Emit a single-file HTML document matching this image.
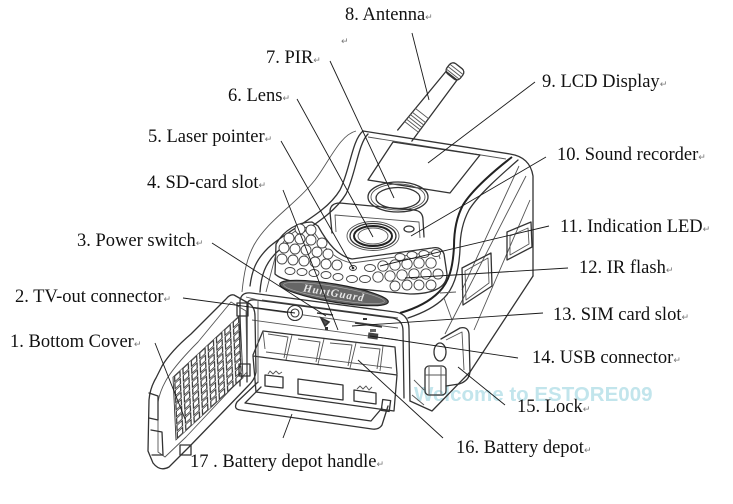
<!DOCTYPE html>
<html><head><meta charset="utf-8"><style>
html,body{margin:0;padding:0;background:#fff;}
svg{display:block;}
.lb{font-family:"Liberation Serif",serif;font-size:18.5px;fill:#111;}
.rt{font-family:"DejaVu Sans",sans-serif;font-size:9px;fill:#777;}
.k{fill:none;stroke:#333;stroke-width:1.3;stroke-linejoin:round;stroke-linecap:round;}
.t{fill:none;stroke:#555;stroke-width:0.9;stroke-linejoin:round;}
.d{fill:none;stroke:#222;stroke-width:2;}
.ld{fill:none;stroke:#1a1a1a;stroke-width:0.9;}
.led{fill:#fff;stroke:#444;stroke-width:0.9;}
</style></head><body>
<svg width="733" height="504" viewBox="0 0 733 504" xmlns="http://www.w3.org/2000/svg">
<defs>
<pattern id="grid" patternUnits="userSpaceOnUse" width="1" height="1">
<rect x="0.18" y="0.12" width="0.64" height="0.76" fill="#fff" stroke="#333" stroke-width="0.14"/>
</pattern>
</defs>
<rect width="733" height="504" fill="#fff"/>

<!-- watermark -->
<text x="414" y="401" font-family="Liberation Sans,sans-serif" font-weight="bold" font-size="20.5" fill="#c2e5ec">Welcome to ESTORE009</text>

<!-- ANTENNA -->
<g transform="translate(406,134) rotate(38)">
<path class="k" d="M-9,2 L-7,-74 L7,-74 L9,2" fill="#fff"/>
<path class="t" d="M-9,-9 L9,-9 M-9,-12 L9,-12 M-8.8,-15 L8.8,-15 M-8.8,-18 L8.8,-18 M-8.6,-21 L8.6,-21 M-8.4,-26 L8.4,-26"/>
<rect class="k" x="-8.5" y="-86" width="17" height="13" rx="4.5" fill="#fff"/>
<path class="t" d="M-8.5,-82 L8.5,-82 M-8.5,-79 L8.5,-79 M-8.5,-76 L8.5,-76"/>
</g>

<!-- TOP / SHELL -->
<path class="t" d="M356,131 C340,135 330,160 315,180 C295,205 268,220 254,245 C247,258 244,272 242,292"/>
<path class="k" d="M363,131 C352,140 350,170 340,190 C325,215 290,228 268,248 C256,260 252,270 250,286"/>
<path class="k" d="M368,134 C358,144 356,173 346,194 C331,219 297,233 276,253 C265,264 261,276 260,292"/>
<path class="k" d="M363,131 L510,154 Q530,157 533,176 L533,276"/>
<path class="t" d="M368,137 L506,159"/>
<path class="d" d="M512,157 C495,170 472,190 463,205 C456,218 454,232 454,246 C453,268 449,282 439,292 C429,302 414,309 400,313"/>
<path class="k" d="M518,160 C502,174 478,195 469,210 C462,223 460,236 460,249 C459,272 454,288 444,298 C434,308 420,314 408,318"/>
<!-- side face -->
<path class="t" d="M526,176 L445,334 M519,166 L462,290 M530,200 L474,330"/>
<path class="k" d="M533,276 L470,372"/>
<polygon class="k" points="507,232 531,222 532,247 507,260"/>
<polygon class="t" points="510,236 528,228 529,244 510,255"/>
<polygon class="k" points="462,268 491,253 492,286 463,305"/>
<polygon class="t" points="465,271 488,258 489,283 466,300"/>

<!-- LCD -->
<polygon class="k" points="393,142 480,155 450,193 368,180"/>

<!-- PIR -->
<ellipse class="k" cx="398" cy="197" rx="30" ry="15"/>
<ellipse class="t" cx="398" cy="197" rx="27" ry="13"/>
<ellipse class="k" cx="398" cy="198" rx="22" ry="10.5" fill="#fff"/>

<!-- lens hood -->
<path class="k" d="M332,233 L330,212 Q330,203 340,203 L414,210 Q423,211 423,220 L424,237" fill="#fff"/>
<path class="t" d="M336,232 L335,215 L419,222 L420,238"/>
<ellipse class="t" cx="373" cy="236" rx="26" ry="14.5"/>
<ellipse class="k" cx="373" cy="236" rx="23" ry="12.5" fill="#fff"/>
<ellipse class="d" cx="373" cy="236" rx="19" ry="10" stroke-width="2.6" stroke="#333"/>
<ellipse class="t" cx="373" cy="236" rx="15" ry="8"/>
<!-- sound hole -->
<ellipse class="k" cx="409" cy="229" rx="5" ry="3"/>

<!-- LED panel -->
<path class="k" d="M276,244 C284,230 298,222 312,222 L318,226 C328,244 338,256 352,259 L432,248 Q441,246 444,254 L447,274 C447,288 432,294 410,294 L330,286 C300,283 282,281 275,274 Z"/>
<path class="t" d="M281,246 C288,233 300,227 311,227 C322,246 334,260 352,263 L432,252 Q439,252 440,259"/>
<g class="led">
<circle cx="300" cy="229" r="5"/><circle cx="311" cy="230" r="5"/>
<circle cx="289" cy="238" r="5"/><circle cx="300" cy="239" r="5"/><circle cx="311" cy="240" r="5"/><circle cx="322" cy="243" r="5"/>
<circle cx="284" cy="248" r="5"/><circle cx="295" cy="249" r="5"/><circle cx="306" cy="250" r="5"/><circle cx="317" cy="252" r="5"/><circle cx="328" cy="254" r="5"/>
<circle cx="282" cy="259" r="5"/><circle cx="293" cy="260" r="5"/><circle cx="304" cy="261" r="5"/><circle cx="315" cy="262" r="5"/><circle cx="326" cy="264" r="5"/><circle cx="337" cy="265" r="5"/>
<ellipse cx="290" cy="271" rx="5" ry="3.5"/><ellipse cx="302" cy="272" rx="5" ry="3.5"/><ellipse cx="314" cy="273" rx="5" ry="3.5"/><ellipse cx="326" cy="275" rx="5" ry="3.5"/><ellipse cx="338" cy="277" rx="5" ry="3.5"/>
<ellipse cx="400" cy="257" rx="5" ry="3.5"/><ellipse cx="412" cy="255" rx="5" ry="3.5"/><ellipse cx="424" cy="254" rx="5" ry="3.5"/><ellipse cx="436" cy="253" rx="4.5" ry="3.5"/>
<ellipse cx="370" cy="268" rx="5.5" ry="3.5"/><circle cx="383" cy="266" r="5.2"/><circle cx="395" cy="265" r="5.2"/><circle cx="407" cy="264" r="5.2"/><circle cx="419" cy="263" r="5.2"/><circle cx="431" cy="263" r="5.2"/>
<ellipse cx="352" cy="279" rx="5.5" ry="3.5"/><ellipse cx="365" cy="279" rx="5.5" ry="3.5"/><circle cx="378" cy="277" r="5.2"/><circle cx="390" cy="276" r="5.2"/><circle cx="402" cy="275" r="5.2"/><circle cx="414" cy="274" r="5.2"/><circle cx="426" cy="274" r="5.2"/><circle cx="438" cy="274" r="5"/>
<circle cx="395" cy="286" r="5"/><circle cx="407" cy="285" r="5"/><circle cx="419" cy="285" r="5"/><circle cx="431" cy="285" r="5"/>
</g>
<!-- laser -->
<ellipse cx="353" cy="268" rx="3.5" ry="2.5" fill="#fff" stroke="#333" stroke-width="0.9"/>
<circle cx="353" cy="268" r="1.3" fill="#333"/>

<!-- logo -->
<g transform="translate(334,293) rotate(9.5)">
<ellipse cx="0" cy="0" rx="55" ry="9" fill="#666" stroke="#222" stroke-width="1.2"/>
<ellipse cx="0" cy="0" rx="51" ry="6.5" fill="none" stroke="#aaa" stroke-width="0.6"/>
<text x="0" y="3.5" text-anchor="middle" font-family="Liberation Serif,serif" font-style="italic" font-weight="bold" font-size="11" fill="#e8e8e8" letter-spacing="1">HuntGuard</text>
</g>

<!-- front lower lines -->
<path class="t" d="M262,300 L398,318 M276,254 L266,292"/>
<path class="t" d="M440,293 L456,292 M444,298 L452,320"/>

<!-- BATTERY COMPARTMENT FRAME -->
<path class="k" d="M240,386 L240,301 Q241,292 251,293 L395,312 Q409,314 409,329 L410,401"/>
<path class="k" d="M247,382 L247,304 Q248,299 256,300 L393,318 Q403,320 403,331 L404,398"/>
<path class="t" d="M253,308 L398,328 M252,320 L398,340"/>
<!-- TV-out -->
<circle cx="295" cy="313" r="7.5" fill="#fff" stroke="#333" stroke-width="1.1"/>
<circle cx="295" cy="313" r="4" fill="none" stroke="#333" stroke-width="1.1"/>
<!-- power switch -->
<path d="M317,313 L333,315 M321,318 L329,322 L325,326 Z" stroke="#333" stroke-width="1.6" fill="#555"/>
<rect x="325" y="327" width="3" height="3" fill="#333"/>
<!-- SIM slot -->
<path d="M355,323 L382,327" stroke="#333" stroke-width="1.6"/>
<rect x="363" y="318" width="4" height="2" fill="#333"/>
<!-- USB -->
<rect x="368" y="333" width="10" height="6" fill="#444" transform="rotate(8 373 336)"/>
<rect x="370" y="329" width="6" height="3" fill="#666"/>

<!-- BATTERY TRAY -->
<path class="k" d="M253,355 L263,331 L395,347 L397,374"/>
<path class="t" d="M263,331 L265,349 M292,335 L286,360 M324,339 L318,364 M356,343 L350,368 M383,346 L380,371"/>
<path class="t" d="M268,334 L288,337 L284,358 M298,339 L320,342 L316,362 M330,343 L352,345 L348,366 M360,347 L380,349 L377,369"/>
<path class="t" d="M266,352 L392,368"/>
<polygon class="k" points="253,356 397,375 394,411 256,392" fill="#fff"/>
<polygon class="k" points="265,375 283,377 283,388 265,386" fill="#fff"/>
<path class="t" d="M268,374 L270,371 L273,374 L276,371 L279,374 L282,372"/>
<polygon class="k" points="298,379 343,385 343,400 298,394" fill="#fff"/>
<polygon class="k" points="354,390 376,393 376,404 354,401" fill="#fff"/>
<path class="t" d="M357,389 L360,386 L363,389 L366,386 L369,390 L372,387"/>

<!-- HANDLE -->
<path class="k" d="M258,382 L237,402 Q233,409 240,410 L372,429 Q379,430 382,425 L388,406"/>
<path class="k" d="M261,387 L245,403 L371,421 L382,408"/>
<rect class="k" x="382" y="400" width="8" height="11" fill="#fff" transform="rotate(8 386 405)"/>

<!-- lower right body & lock -->
<path class="k" d="M410,401 L432,411 L470,372"/>
<path class="k" d="M441,339 L460,328 Q468,326 469,334 L470,372 Q469,381 459,384 L446,386"/>
<path class="t" d="M446,340 L462,332 L464,370"/>
<rect class="k" x="425" y="366" width="21" height="29" rx="4" fill="#fff"/>
<path class="t" d="M429,367 L429,394 M441,367 L441,394 M425,375 L446,375"/>
<ellipse class="k" cx="440" cy="352" rx="6" ry="9" fill="#fff"/>
<path class="t" d="M414,380 L424,390 M412,395 L424,405"/>

<!-- DOOR (bottom cover) -->
<path class="k" d="M234,295 L250,304 Q255,308 255,316 L256,372 Q255,379 249,385 L190,446 L169,467 Q160,472 153,463 L148,451 L149,400 Q150,388 156,378 L162,366 Q171,351 191,334 L226,299 Q230,294 234,295 Z" fill="#fff"/>
<path class="t" d="M231,302 L246,311 L247,372 L186,437 L165,457 L158,452 L158,402 Q160,390 168,377 Q178,362 198,342 Z"/>
<g transform="matrix(8.375,-7.75,0.333,7,173,377)">
<rect x="0" y="0" width="8" height="9" fill="url(#grid)" stroke="#333" stroke-width="0.1"/>
</g>
<rect class="k" x="237" y="303" width="11" height="13" fill="#fff"/>
<rect class="k" x="239" y="364" width="11" height="12" fill="#fff"/>
<rect class="k" x="180" y="445" width="11" height="10" fill="#fff"/>
<path class="k" d="M149,393 L158,396 L158,420 L149,418 M151,430 L162,432 L163,455 L152,455" fill="#fff"/>
<path class="t" d="M246,297 L258,300 L258,383"/>

<!-- LEADER LINES -->
<g class="ld">
<line x1="412" y1="33" x2="429" y2="100"/>
<line x1="330" y1="61" x2="394" y2="198"/>
<line x1="297" y1="99" x2="373" y2="237"/>
<line x1="281" y1="141" x2="353" y2="268"/>
<line x1="283" y1="190" x2="338" y2="330"/>
<line x1="212" y1="243" x2="326" y2="316"/>
<line x1="183" y1="298" x2="295" y2="313"/>
<line x1="155" y1="343" x2="185" y2="419"/>
<line x1="535" y1="82" x2="428" y2="163"/>
<line x1="546" y1="157" x2="411" y2="236"/>
<line x1="549" y1="226" x2="380" y2="266"/>
<line x1="568" y1="268" x2="405" y2="278"/>
<line x1="543" y1="313" x2="352" y2="326"/>
<line x1="518" y1="358" x2="370" y2="336"/>
<line x1="505" y1="405" x2="458" y2="367"/>
<line x1="443" y1="438" x2="358" y2="360"/>
<line x1="283" y1="438" x2="292" y2="414"/>
</g>

<!-- LABELS -->
<text class="lb" x="345" y="20">8. Antenna<tspan class="rt">↵</tspan></text>
<text class="rt" x="341" y="44">↵</text>
<text class="lb" x="266" y="63">7. PIR<tspan class="rt">↵</tspan></text>
<text class="lb" x="228" y="101">6. Lens<tspan class="rt">↵</tspan></text>
<text class="lb" x="148" y="142">5. Laser pointer<tspan class="rt">↵</tspan></text>
<text class="lb" x="147" y="188">4. SD-card slot<tspan class="rt">↵</tspan></text>
<text class="lb" x="77" y="246">3. Power switch<tspan class="rt">↵</tspan></text>
<text class="lb" x="15" y="302">2. TV-out connector<tspan class="rt">↵</tspan></text>
<text class="lb" x="10" y="347">1. Bottom Cover<tspan class="rt">↵</tspan></text>
<text class="lb" x="542" y="87">9. LCD Display<tspan class="rt">↵</tspan></text>
<text class="lb" x="557" y="160">10. Sound recorder<tspan class="rt">↵</tspan></text>
<text class="lb" x="560" y="232">11. Indication LED<tspan class="rt">↵</tspan></text>
<text class="lb" x="579" y="273">12. IR flash<tspan class="rt">↵</tspan></text>
<text class="lb" x="553" y="320">13. SIM card slot<tspan class="rt">↵</tspan></text>
<text class="lb" x="532" y="363">14. USB connector<tspan class="rt">↵</tspan></text>
<text class="lb" x="517" y="412">15. Lock<tspan class="rt">↵</tspan></text>
<text class="lb" x="456" y="453">16. Battery depot<tspan class="rt">↵</tspan></text>
<text class="lb" x="190" y="467">17 . Battery depot handle<tspan class="rt">↵</tspan></text>
</svg>
</body></html>
